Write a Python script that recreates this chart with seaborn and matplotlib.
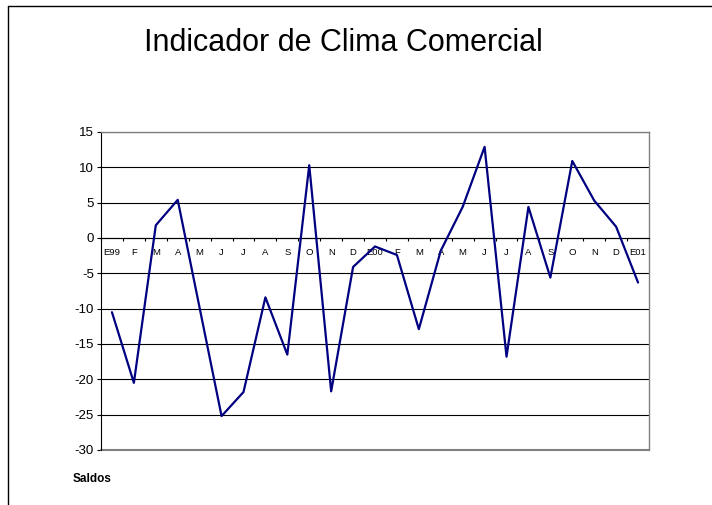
import numpy as np
import pandas as pd
import matplotlib
matplotlib.use("Agg")
import matplotlib.pyplot as plt
from matplotlib.lines import Line2D
import seaborn as sns

months = ["E99", "F", "M", "A", "M", "J", "J", "A", "S", "O", "N", "D",
          "E00", "F", "M", "A", "M", "J", "J", "A", "S", "O", "N", "D", "E01"]
saldos = [-10.5, -20.5, 1.8, 5.4, -9.9, -25.2, -21.8, -8.4, -16.5, 10.3, -21.7, -4.1,
          -1.2, -2.4, -12.9, -1.8, 4.4, 12.9, -16.8, 4.4, -5.6, 10.9, 5.3, 1.6, -6.3]
yticks = list(range(-30, 20, 5))

sns.set_style("white")
plt.rcParams['font.family'] = ['Liberation Sans', 'DejaVu Sans']
plt.rcParams['text.color'] = 'black'
plt.rcParams['xtick.color'] = 'black'
plt.rcParams['ytick.color'] = 'black'

df = pd.DataFrame({"pos": np.arange(len(months)), "saldo": saldos})

fig = plt.figure(figsize=(7.12, 5.05), dpi=100)
ax = fig.add_axes([101/712, 55/505, 548/712, 318/505])

# gridlines
for y in yticks:
    ax.axhline(y, color="black", lw=0.8, zorder=1)

sns.lineplot(data=df, x="pos", y="saldo", color="#000080", lw=1.6, ax=ax, zorder=3)

ax.set_xlim(-0.5, len(months) - 0.5)
ax.set_ylim(-30, 15)
ax.set_yticks(yticks)
ax.set_yticklabels([str(v) for v in yticks], fontsize=9.5)
ax.tick_params(axis="y", direction="out", length=3, width=0.8, pad=2, left=True)

# category axis sits at zero
ax.spines["bottom"].set_position(("data", 0))
ax.spines["bottom"].set_color("black")
ax.spines["bottom"].set_linewidth(0.8)
ax.spines["left"].set_color("black")
ax.spines["left"].set_linewidth(0.8)
for s in ["top", "right"]:
    ax.spines[s].set_color("#808080")
    ax.spines[s].set_linewidth(1.0)
ax.axhline(-30, color="#808080", lw=1.5, zorder=2, clip_on=False)

ax.set_xticks(np.arange(len(months)))
ax.set_xticklabels(months, fontsize=6.8)
ax.set_xticks(np.arange(-0.5, len(months), 1.0), minor=True)
ax.tick_params(axis="x", which="major", length=0, pad=7, bottom=True)
ax.tick_params(axis="x", which="minor", direction="out", length=2.5, width=0.8, bottom=True)
ax.set_xlabel("")
ax.set_ylabel("")

fig.text(343/712, 1 - 43/505, "Indicador de Clima Comercial", ha="center", va="center", fontsize=22)
fig.text(73/712, 1 - 479/505, "Saldos", ha="left", va="center", fontsize=8.5, fontweight="bold")

# chart frame
fig.add_artist(Line2D([8/712, 1], [1 - 6/505, 1 - 6/505], color="black", lw=1.0, transform=fig.transFigure))
fig.add_artist(Line2D([8/712, 8/712], [0, 1 - 6/505], color="black", lw=1.0, transform=fig.transFigure))

fig.savefig("out.png", dpi=100)
